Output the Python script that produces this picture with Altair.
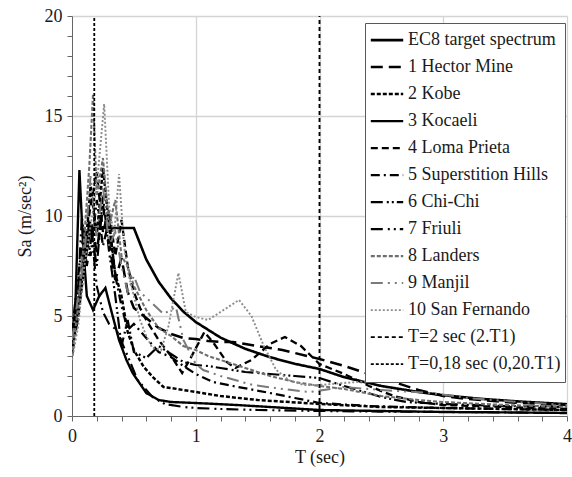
import altair as alt
import pandas as pd

# ---------------- data ----------------
SERIES = ["EC8 target spectrum", "1 Hector Mine", "2 Kobe", "3 Kocaeli",
          "4 Loma Prieta", "5 Superstition Hills", "6 Chi-Chi", "7 Friuli",
          "8 Landers", "9 Manjil", "10 San Fernando",
          "T=2 sec (2.T1)", "T=0,18 sec (0,20.T1)"]

T_EC8 = [0, 0.15, 0.5, 0.6, 0.7, 0.8, 0.9, 1.0, 1.2, 1.4, 1.6, 1.8, 2.0,
         2.2, 2.5, 2.8, 3.0, 3.3, 3.6, 4.0]
SA_EC8 = [3.76, 9.4, 9.4, 7.83, 6.71, 5.88, 5.22, 4.7, 3.92, 3.36, 2.94, 2.61,
          2.35, 1.94, 1.5, 1.2, 1.04, 0.86, 0.73, 0.59]

T_HEC = [0, 0.05, 0.1, 0.15, 0.2, 0.25, 0.3, 0.35, 0.4, 0.45, 0.5, 0.6, 0.7,
         0.8, 0.9, 1.0, 1.1, 1.2, 1.3, 1.4, 1.5, 1.6, 1.7, 1.8, 1.9, 2.0, 2.2,
         2.4, 2.6, 2.8, 3.0, 3.2, 3.5, 3.8, 4.0]
SA_HEC = [3.8, 5.5, 8.5, 9.8, 8.2, 10.5, 8.6, 6.8, 7.9, 6.2, 5.4, 4.9, 4.4,
          4.1, 3.9, 3.85, 3.75, 3.7, 3.7, 3.6, 3.5, 3.4, 3.3, 3.15, 3.0, 2.85,
          2.5, 2.1, 1.7, 1.3, 1.0, 0.85, 0.7, 0.6, 0.55]

T_KOB = [0, 0.05, 0.1, 0.15, 0.2, 0.25, 0.3, 0.35, 0.4, 0.45, 0.5, 0.58,
         0.66, 0.74, 0.8, 0.9, 1.0, 1.2, 1.5, 2.0, 2.5, 3.0, 3.5, 4.0]
SA_KOB = [3.5, 5.0, 7.5, 11.5, 9.0, 12.4, 9.5, 7.1, 6.0, 4.2, 3.3, 2.45,
          1.9, 1.45, 1.4, 1.3, 1.2, 1.0, 0.8, 0.6, 0.45, 0.4, 0.35, 0.3]

T_KOC = [0, 0.03, 0.06, 0.09, 0.12, 0.17, 0.22, 0.27, 0.32, 0.38, 0.44, 0.49,
         0.6, 0.7, 0.8, 1.0, 1.33, 1.6, 2.0, 2.5, 3.0, 3.5, 4.0]
SA_KOC = [3.2, 6.0, 12.3, 8.5, 6.0, 5.3, 6.0, 6.4, 5.2, 3.8, 2.8, 2.15,
          1.15, 0.8, 0.7, 0.65, 0.55, 0.45, 0.3, 0.25, 0.2, 0.18, 0.15]

T_LOM = [0, 0.05, 0.1, 0.15, 0.2, 0.25, 0.3, 0.35, 0.4, 0.45, 0.5, 0.55, 0.6,
         0.7, 0.8, 0.89, 0.95, 1.07, 1.15, 1.25, 1.32, 1.45, 1.6, 1.72, 1.85,
         2.0, 2.2, 2.4, 2.6, 2.8, 3.0, 3.5, 4.0]
SA_LOM = [4.0, 6.0, 8.5, 10.5, 12.2, 9.2, 10.3, 8.0, 9.8, 7.5, 6.2, 5.4, 4.8,
          3.8, 3.0, 2.15, 2.8, 4.2, 3.6, 2.7, 2.4, 2.8, 3.6, 3.95, 3.5,
          2.6, 2.1, 1.5, 1.0, 0.7, 0.55, 0.45, 0.35]

T_SUP = [0, 0.05, 0.1, 0.15, 0.2, 0.25, 0.3, 0.35, 0.4, 0.45, 0.5, 0.6, 0.7,
         0.8, 0.9, 1.0, 1.14, 1.3, 1.6, 1.8, 2.0, 2.4, 3.0, 3.5, 4.0]
SA_SUP = [4.2, 7.0, 9.5, 8.0, 10.8, 8.5, 9.8, 7.0, 5.5, 4.3, 4.6, 3.9, 3.2,
          2.95, 2.5, 2.1, 1.7, 1.5, 1.15, 0.9, 0.65, 0.5, 0.4, 0.35, 0.3]

T_CHI = [0, 0.05, 0.1, 0.15, 0.2, 0.25, 0.3, 0.35, 0.4, 0.45, 0.5, 0.6, 0.7,
         0.8, 0.9, 1.0, 1.1, 1.2, 1.4, 1.6, 1.8, 2.0, 2.2, 2.5, 2.7, 3.0,
         3.5, 4.0]
SA_CHI = [3.0, 5.0, 7.8, 9.5, 7.5, 11.0, 8.2, 6.0, 3.5, 4.8, 3.2, 2.9, 3.5,
          3.1, 2.7, 2.55, 2.5, 2.4, 2.2, 2.1, 2.0, 1.9, 1.5, 0.95, 0.7, 0.6,
          0.5, 0.45]

T_FRI = [0, 0.05, 0.08, 0.12, 0.16, 0.2, 0.25, 0.3, 0.36, 0.45, 0.53, 0.65,
         0.75, 0.9, 1.0, 1.2, 1.5, 2.0, 2.5, 3.0, 3.5, 4.0]
SA_FRI = [3.5, 6.5, 10.0, 7.5, 9.0, 6.5, 5.2, 4.6, 4.3, 3.0, 1.8, 0.95,
          0.6, 0.45, 0.4, 0.35, 0.3, 0.25, 0.22, 0.2, 0.18, 0.15]

T_LAN = [0, 0.05, 0.1, 0.14, 0.17, 0.2, 0.25, 0.3, 0.35, 0.4, 0.45, 0.5, 0.6,
         0.7, 0.8, 0.9, 1.0, 1.1, 1.2, 1.4, 1.6, 1.8, 2.0, 2.2, 2.5, 2.8, 3.0,
         3.5, 4.0]
SA_LAN = [3.0, 5.5, 9.0, 12.5, 16.1, 11.0, 12.9, 9.5, 10.8, 8.0, 7.5, 6.5,
          5.3, 4.4, 4.0, 3.5, 3.3, 3.0, 2.8, 2.4, 2.0, 1.7, 1.5, 1.35, 1.0,
          0.8, 0.7, 0.55, 0.45]

T_MAN = [0, 0.05, 0.1, 0.15, 0.2, 0.25, 0.3, 0.35, 0.4, 0.45, 0.5, 0.55, 0.62,
         0.74, 0.84, 0.9, 1.0, 1.06, 1.2, 1.46, 1.7, 1.92, 2.2, 2.5, 2.9, 3.2,
         3.6, 4.0]
SA_MAN = [3.8, 6.0, 8.0, 12.0, 9.0, 11.5, 8.5, 9.2, 7.5, 6.2, 7.0, 6.2, 5.8,
          5.1, 5.45, 3.8, 2.6, 2.3, 2.0, 1.55, 1.35, 1.2, 1.45, 1.3, 1.15, 0.9,
          0.7, 0.55]

T_SFE = [0, 0.05, 0.1, 0.15, 0.2, 0.26, 0.3, 0.34, 0.38, 0.42, 0.46, 0.5, 0.55,
         0.6, 0.65, 0.72, 0.78, 0.86, 0.92, 1.0, 1.1, 1.2, 1.35, 1.45, 1.55,
         1.65, 1.75, 1.87, 2.0, 2.3, 2.6, 3.0, 3.35, 3.7, 4.0]
SA_SFE = [2.8, 4.5, 7.5, 9.5, 11.5, 15.6, 10.5, 9.0, 12.1, 8.5, 7.0, 6.0, 4.8,
          4.0, 3.4, 3.3, 4.5, 7.15, 5.2, 4.95, 4.8, 5.2, 5.8, 5.0, 3.5,
          2.3, 1.8, 1.55, 1.55, 1.7, 1.8, 1.9, 2.0, 1.95, 1.9]

T_V2 = [2, 2]
SA_V2 = [0, 20]
T_V018 = [0.18, 0.18]
SA_V018 = [0, 20]

X_TICKS = [0, 0.2, 0.4, 0.6, 0.8, 1, 1.2, 1.4, 1.6, 1.8, 2, 2.2, 2.4, 2.6,
           2.8, 3, 3.2, 3.4, 3.6, 3.8, 4]
Y_TICKS = list(range(0, 21))

# ---------------- styles ----------------
COLORS = ["#000000", "#000000", "#000000", "#000000", "#000000", "#000000",
          "#000000", "#000000", "#6e6e6e", "#7a7a7a", "#8c8c8c", "#000000",
          "#000000"]
DASHES = [[1, 0], [12, 6], [4, 2], [1, 0], [7, 4], [9, 4, 2, 4],
          [12, 4, 2, 3, 2, 3], [12, 5, 2, 4, 2, 4], [4, 2],
          [12, 5, 2, 5, 2, 5], [2, 2], [4, 3], [3, 2]]
WIDTHS = [2.6, 1.8, 1.3, 1.5, 1.5, 1.5, 1.5, 2.0, 1.5, 1.8, 1.5, 1.0, 0.8]

pairs = [(T_EC8, SA_EC8), (T_HEC, SA_HEC), (T_KOB, SA_KOB), (T_KOC, SA_KOC),
         (T_LOM, SA_LOM), (T_SUP, SA_SUP), (T_CHI, SA_CHI), (T_FRI, SA_FRI),
         (T_LAN, SA_LAN), (T_MAN, SA_MAN), (T_SFE, SA_SFE), (T_V2, SA_V2),
         (T_V018, SA_V018)]

rows = []
for name, (ts, sas) in zip(SERIES, pairs):
    for i, (t, s) in enumerate(zip(ts, sas)):
        rows.append({"series": name, "T": t, "Sa": s, "idx": i})
df = pd.DataFrame(rows)

FONT = "'Liberation Serif', 'Times New Roman', Times, 'DejaVu Serif', serif"
FS = 18

x_axis = alt.Axis(
    values=X_TICKS, title="T (sec)", format=".0f",
    labelExpr="abs(datum.value - round(datum.value)) < 0.001 ? datum.label : ''",
    gridColor={"condition": {"test": "abs(datum.value - round(datum.value)) < 0.001 && datum.value > 0",
                             "value": "#d4d4d4"}, "value": "rgba(0,0,0,0)"},
    grid=True, gridWidth=1.3, tickSize=5, labelPadding=6, titlePadding=3,
    labelFontSize=FS, titleFontSize=FS, labelFont=FONT, titleFont=FONT,
    titleFontWeight="normal",
    labelColor="#1a1a1a", titleColor="#1a1a1a", domainColor="#666666",
    tickColor="#666666", labelFlush=False,
)
y_axis = alt.Axis(
    values=Y_TICKS, title="Sa (m/sec²)", format="d",
    labelExpr="datum.value % 5 === 0 ? datum.label : ''",
    gridColor={"condition": {"test": "datum.value % 5 === 0 && datum.value > 0",
                             "value": "#d4d4d4"}, "value": "rgba(0,0,0,0)"},
    grid=True, gridWidth=1.3, tickSize=5, labelPadding=5, titlePadding=10,
    labelFontSize=FS, titleFontSize=FS, labelFont=FONT, titleFont=FONT,
    titleFontWeight="normal",
    labelColor="#1a1a1a", titleColor="#1a1a1a", domainColor="#666666",
    tickColor="#666666",
)

legend = alt.Legend(
    title=None, orient="none", legendX=293, legendY=7,
    symbolType="stroke", symbolSize=1050, labelFont=FONT, labelFontSize=FS,
    labelColor="#1a1a1a", labelOffset=3, rowPadding=0, padding=4,
    clipHeight=26.2,
    strokeColor="#595959", fillColor="white", labelLimit=300,
)

chart = alt.Chart(df).mark_line(clip=True).encode(
    x=alt.X("T:Q", scale=alt.Scale(domain=[0, 4], nice=False), axis=x_axis),
    y=alt.Y("Sa:Q", scale=alt.Scale(domain=[0, 20], nice=False), axis=y_axis),
    color=alt.Color("series:N", scale=alt.Scale(domain=SERIES, range=COLORS),
                    legend=legend, sort=SERIES),
    strokeDash=alt.StrokeDash("series:N", scale=alt.Scale(domain=SERIES, range=DASHES),
                              legend=legend, sort=SERIES),
    strokeWidth=alt.StrokeWidth("series:N", scale=alt.Scale(domain=SERIES, range=WIDTHS),
                                legend=legend, sort=SERIES),
    order="idx:Q",
).properties(
    width=495, height=400,
    autosize=alt.AutoSizeParams(type="none"),
    padding={"left": 72, "top": 16, "right": 5, "bottom": 61},
).configure(background="white", font=FONT).configure_view(stroke=None)

chart.save("out.html", embed_options={"renderer": "svg", "actions": False})
